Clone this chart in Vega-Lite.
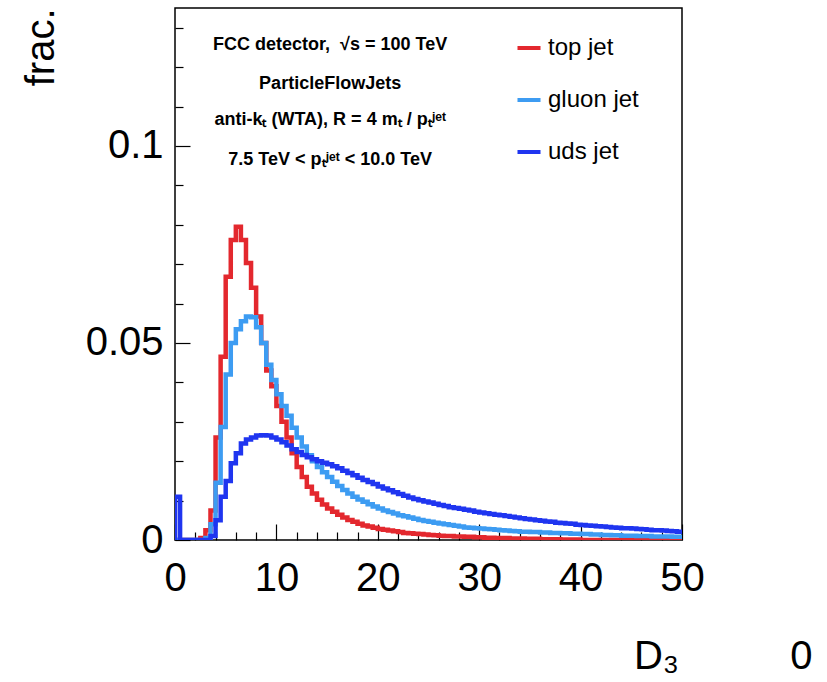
{
"$schema": "https://vega.github.io/schema/vega-lite/v6.json",
"width": 507,
"height": 532,
"autosize": {"type": "none"},
"padding": {"left": 175, "top": 8, "right": 145, "bottom": 142},
"background": "white",
"config": {
  "font": "Liberation Sans",
  "view": {"stroke": "black", "strokeWidth": 1.5},
  "axis": {"grid": false, "domain": false, "labelColor": "black", "titleColor": "black", "tickColor": "black", "tickWidth": 1.2, "labelFontSize": 40, "titleFontSize": 40, "titleFontWeight": "normal", "labelFlush": false, "labelBound": false}
},
"resolve": {"axis": {"x": "independent", "y": "independent"}},
"layer": [
{
  "data": {"values": [
{"i":0,"D3":0,"top jet":0,"gluon jet":0,"uds jet":0},
{"i":1,"D3":0,"top jet":0,"gluon jet":0,"uds jet":0.011},
{"i":2,"D3":0.5,"top jet":0,"gluon jet":0,"uds jet":0},
{"i":3,"D3":1,"top jet":0,"gluon jet":0,"uds jet":0},
{"i":4,"D3":1.5,"top jet":0,"gluon jet":0,"uds jet":0},
{"i":5,"D3":2,"top jet":0,"gluon jet":0,"uds jet":0},
{"i":6,"D3":2.5,"top jet":0.0005,"gluon jet":0,"uds jet":0},
{"i":7,"D3":3,"top jet":0.0025,"gluon jet":0.0005,"uds jet":0},
{"i":8,"D3":3.5,"top jet":0.0075,"gluon jet":0.004,"uds jet":0.001},
{"i":9,"D3":4,"top jet":0.026,"gluon jet":0.0145,"uds jet":0.005},
{"i":10,"D3":4.5,"top jet":0.0465,"gluon jet":0.0287,"uds jet":0.011},
{"i":11,"D3":5,"top jet":0.0668,"gluon jet":0.042,"uds jet":0.015},
{"i":12,"D3":5.5,"top jet":0.0761,"gluon jet":0.05,"uds jet":0.0195},
{"i":13,"D3":6,"top jet":0.0795,"gluon jet":0.0535,"uds jet":0.022},
{"i":14,"D3":6.5,"top jet":0.0761,"gluon jet":0.0555,"uds jet":0.0245},
{"i":15,"D3":7,"top jet":0.0703,"gluon jet":0.0567,"uds jet":0.0255},
{"i":16,"D3":7.5,"top jet":0.064,"gluon jet":0.0565,"uds jet":0.026},
{"i":17,"D3":8,"top jet":0.0567,"gluon jet":0.054,"uds jet":0.0265},
{"i":18,"D3":8.5,"top jet":0.05,"gluon jet":0.05,"uds jet":0.0266},
{"i":19,"D3":9,"top jet":0.043,"gluon jet":0.0445,"uds jet":0.0265},
{"i":20,"D3":9.5,"top jet":0.039,"gluon jet":0.0406,"uds jet":0.026},
{"i":21,"D3":10,"top jet":0.034,"gluon jet":0.037,"uds jet":0.0255},
{"i":22,"D3":10.5,"top jet":0.03,"gluon jet":0.034,"uds jet":0.0248},
{"i":23,"D3":11,"top jet":0.026,"gluon jet":0.0315,"uds jet":0.024},
{"i":24,"D3":11.5,"top jet":0.022,"gluon jet":0.0285,"uds jet":0.023},
{"i":25,"D3":12,"top jet":0.0185,"gluon jet":0.026,"uds jet":0.0223},
{"i":26,"D3":12.5,"top jet":0.016,"gluon jet":0.0237,"uds jet":0.0216},
{"i":27,"D3":13,"top jet":0.0135,"gluon jet":0.0215,"uds jet":0.021},
{"i":28,"D3":13.5,"top jet":0.0118,"gluon jet":0.02,"uds jet":0.0205},
{"i":29,"D3":14,"top jet":0.0102,"gluon jet":0.0185,"uds jet":0.02},
{"i":30,"D3":14.5,"top jet":0.009,"gluon jet":0.0172,"uds jet":0.0196},
{"i":31,"D3":15,"top jet":0.008,"gluon jet":0.016,"uds jet":0.0192},
{"i":32,"D3":15.5,"top jet":0.0072,"gluon jet":0.0148,"uds jet":0.0187},
{"i":33,"D3":16,"top jet":0.0064,"gluon jet":0.0137,"uds jet":0.0182},
{"i":34,"D3":16.5,"top jet":0.0057,"gluon jet":0.0127,"uds jet":0.0176},
{"i":35,"D3":17,"top jet":0.0051,"gluon jet":0.0118,"uds jet":0.017},
{"i":36,"D3":17.5,"top jet":0.0046,"gluon jet":0.011,"uds jet":0.0164},
{"i":37,"D3":18,"top jet":0.0041,"gluon jet":0.0103,"uds jet":0.0158},
{"i":38,"D3":18.5,"top jet":0.0037,"gluon jet":0.0097,"uds jet":0.0152},
{"i":39,"D3":19,"top jet":0.0034,"gluon jet":0.0091,"uds jet":0.0147},
{"i":40,"D3":19.5,"top jet":0.0031,"gluon jet":0.0085,"uds jet":0.0142},
{"i":41,"D3":20,"top jet":0.0028,"gluon jet":0.008,"uds jet":0.0136},
{"i":42,"D3":20.5,"top jet":0.0026,"gluon jet":0.0075,"uds jet":0.0131},
{"i":43,"D3":21,"top jet":0.0024,"gluon jet":0.0071,"uds jet":0.0126},
{"i":44,"D3":21.5,"top jet":0.0022,"gluon jet":0.0067,"uds jet":0.0121},
{"i":45,"D3":22,"top jet":0.002,"gluon jet":0.0063,"uds jet":0.0117},
{"i":46,"D3":22.5,"top jet":0.0018,"gluon jet":0.006,"uds jet":0.0112},
{"i":47,"D3":23,"top jet":0.0017,"gluon jet":0.0057,"uds jet":0.0108},
{"i":48,"D3":23.5,"top jet":0.0016,"gluon jet":0.0054,"uds jet":0.0104},
{"i":49,"D3":24,"top jet":0.0015,"gluon jet":0.0051,"uds jet":0.0101},
{"i":50,"D3":24.5,"top jet":0.0014,"gluon jet":0.0048,"uds jet":0.0098},
{"i":51,"D3":25,"top jet":0.0013,"gluon jet":0.0046,"uds jet":0.0095},
{"i":52,"D3":25.5,"top jet":0.0012,"gluon jet":0.0044,"uds jet":0.0092},
{"i":53,"D3":26,"top jet":0.0011,"gluon jet":0.0042,"uds jet":0.0089},
{"i":54,"D3":26.5,"top jet":0.001,"gluon jet":0.004,"uds jet":0.0086},
{"i":55,"D3":27,"top jet":0.001,"gluon jet":0.0038,"uds jet":0.0083},
{"i":56,"D3":27.5,"top jet":0.0009,"gluon jet":0.0036,"uds jet":0.0081},
{"i":57,"D3":28,"top jet":0.0009,"gluon jet":0.0034,"uds jet":0.0079},
{"i":58,"D3":28.5,"top jet":0.0008,"gluon jet":0.0032,"uds jet":0.0077},
{"i":59,"D3":29,"top jet":0.0008,"gluon jet":0.0031,"uds jet":0.0075},
{"i":60,"D3":29.5,"top jet":0.0007,"gluon jet":0.003,"uds jet":0.0072},
{"i":61,"D3":30,"top jet":0.0007,"gluon jet":0.0029,"uds jet":0.007},
{"i":62,"D3":30.5,"top jet":0.0006,"gluon jet":0.0028,"uds jet":0.0068},
{"i":63,"D3":31,"top jet":0.0006,"gluon jet":0.0027,"uds jet":0.0066},
{"i":64,"D3":31.5,"top jet":0.0005,"gluon jet":0.0026,"uds jet":0.0064},
{"i":65,"D3":32,"top jet":0.0005,"gluon jet":0.0025,"uds jet":0.0063},
{"i":66,"D3":32.5,"top jet":0.0005,"gluon jet":0.0024,"uds jet":0.0061},
{"i":67,"D3":33,"top jet":0.0004,"gluon jet":0.0023,"uds jet":0.0059},
{"i":68,"D3":33.5,"top jet":0.0004,"gluon jet":0.0022,"uds jet":0.0057},
{"i":69,"D3":34,"top jet":0.0004,"gluon jet":0.0021,"uds jet":0.0055},
{"i":70,"D3":34.5,"top jet":0.0003,"gluon jet":0.0021,"uds jet":0.0053},
{"i":71,"D3":35,"top jet":0.0003,"gluon jet":0.002,"uds jet":0.0052},
{"i":72,"D3":35.5,"top jet":0.0003,"gluon jet":0.002,"uds jet":0.005},
{"i":73,"D3":36,"top jet":0.0002,"gluon jet":0.0019,"uds jet":0.0049},
{"i":74,"D3":36.5,"top jet":0.0002,"gluon jet":0.0019,"uds jet":0.0047},
{"i":75,"D3":37,"top jet":0.0002,"gluon jet":0.0018,"uds jet":0.0046},
{"i":76,"D3":37.5,"top jet":0.0002,"gluon jet":0.0018,"uds jet":0.0044},
{"i":77,"D3":38,"top jet":0.0001,"gluon jet":0.0017,"uds jet":0.0043},
{"i":78,"D3":38.5,"top jet":0.0001,"gluon jet":0.0017,"uds jet":0.0042},
{"i":79,"D3":39,"top jet":0.0001,"gluon jet":0.0016,"uds jet":0.0041},
{"i":80,"D3":39.5,"top jet":0.0001,"gluon jet":0.0016,"uds jet":0.0039},
{"i":81,"D3":40,"top jet":0,"gluon jet":0.0015,"uds jet":0.0038},
{"i":82,"D3":40.5,"top jet":0,"gluon jet":0.0015,"uds jet":0.0037},
{"i":83,"D3":41,"top jet":0,"gluon jet":0.0014,"uds jet":0.0036},
{"i":84,"D3":41.5,"top jet":0,"gluon jet":0.0014,"uds jet":0.0035},
{"i":85,"D3":42,"top jet":0,"gluon jet":0.0013,"uds jet":0.0034},
{"i":86,"D3":42.5,"top jet":0,"gluon jet":0.0013,"uds jet":0.0033},
{"i":87,"D3":43,"top jet":0,"gluon jet":0.0012,"uds jet":0.0032},
{"i":88,"D3":43.5,"top jet":0,"gluon jet":0.0012,"uds jet":0.0031},
{"i":89,"D3":44,"top jet":0,"gluon jet":0.0011,"uds jet":0.003},
{"i":90,"D3":44.5,"top jet":0,"gluon jet":0.0011,"uds jet":0.003},
{"i":91,"D3":45,"top jet":0,"gluon jet":0.0011,"uds jet":0.0029},
{"i":92,"D3":45.5,"top jet":0,"gluon jet":0.001,"uds jet":0.0028},
{"i":93,"D3":46,"top jet":0,"gluon jet":0.001,"uds jet":0.0027},
{"i":94,"D3":46.5,"top jet":0,"gluon jet":0.001,"uds jet":0.0026},
{"i":95,"D3":47,"top jet":0,"gluon jet":0.0009,"uds jet":0.0025},
{"i":96,"D3":47.5,"top jet":0,"gluon jet":0.0009,"uds jet":0.0025},
{"i":97,"D3":48,"top jet":0,"gluon jet":0.0009,"uds jet":0.0024},
{"i":98,"D3":48.5,"top jet":0,"gluon jet":0.0009,"uds jet":0.0023},
{"i":99,"D3":49,"top jet":0,"gluon jet":0.0008,"uds jet":0.0022},
{"i":100,"D3":49.5,"top jet":0,"gluon jet":0.0008,"uds jet":0.0021},
{"i":101,"D3":50,"top jet":0,"gluon jet":0.0008,"uds jet":0.0021}
  ]},
  "transform": [{"fold": ["top jet", "gluon jet", "uds jet"], "as": ["jet", "frac"]}],
  "mark": {"type": "line", "interpolate": "step-after", "strokeWidth": 4.5, "clip": true},
  "encoding": {
    "x": {"field": "D3", "type": "quantitative",
      "scale": {"domain": [0, 50], "nice": false, "zero": false},
      "axis": {
        "orient": "bottom",
        "values": [0,10,20,30,40,50],
        "format": "d",
        "labelOverlap": false,
        "tickSize": -16,
        "labelPadding": 34,
        "title": "D₃\u00a0\u00a0\u00a0\u00a0\u00a0\u00a0\u00a0\u00a0\u00a0\u00a00",
        "titleAnchor": "end",
        "titleAlign": "right",
        "titleX": 637,
        "titleY": 128,
        "titleBaseline": "alphabetic"
      }},
    "y": {"field": "frac", "type": "quantitative",
      "scale": {"domain": [0, 0.135], "nice": false},
      "axis": {
        "orient": "left",
        "values": [0, 0.05, 0.1],
        "labelExpr": "datum.value < 0.001 ? '0' : (abs(datum.value - 0.05) < 0.0001 ? '0.05' : '0.1')",
        "labelOverlap": false,
        "tickSize": -15,
        "labelPadding": 27,
        "title": "frac.",
        "titleAnchor": "end",
        "titlePadding": 24
      }},
    "color": {"field": "jet", "type": "nominal",
      "scale": {"domain": ["top jet", "gluon jet", "uds jet"], "range": ["#e3282e", "#3d9cf2", "#1f35f0"]},
      "legend": {"orient": "none", "legendX": 340, "legendY": 26, "title": null, "symbolType": "stroke", "symbolStrokeWidth": 4, "symbolSize": 530, "labelFontSize": 24, "labelColor": "black", "rowPadding": 26, "labelOffset": 5}},
    "order": {"field": "i", "type": "quantitative"}
  }
},
{
  "data": {"values": [
    {"tx": 15.3, "ty": 0.1256, "t": "FCC detector,\u00a0\u00a0√s = 100 TeV"},
    {"tx": 15.3, "ty": 0.1157, "t": "ParticleFlowJets"},
    {"tx": 15.3, "ty": 0.1066, "t": "anti-kₜ (WTA), R = 4 mₜ / pₜʲᵉᵗ"},
    {"tx": 15.3, "ty": 0.0964, "t": "7.5 TeV < pₜʲᵉᵗ < 10.0 TeV"}
  ]},
  "mark": {"type": "text", "fontSize": 18, "fontWeight": "bold", "align": "center", "baseline": "middle", "color": "black"},
  "encoding": {
    "x": {"field": "tx", "type": "quantitative",
      "scale": {"domain": [0, 50], "nice": false, "zero": false},
      "axis": {"orient": "bottom", "values": [2,4,6,8,12,14,16,18,22,24,26,28,32,34,36,38,42,44,46,48], "labels": false, "tickSize": -8, "title": null}},
    "y": {"field": "ty", "type": "quantitative",
      "scale": {"domain": [0, 0.135], "nice": false},
      "axis": {"orient": "left", "values": [0.01,0.02,0.03,0.04,0.06,0.07,0.08,0.09,0.11,0.12,0.13], "labels": false, "tickSize": -8, "title": null}},
    "text": {"field": "t"}
  }
}
]
}
